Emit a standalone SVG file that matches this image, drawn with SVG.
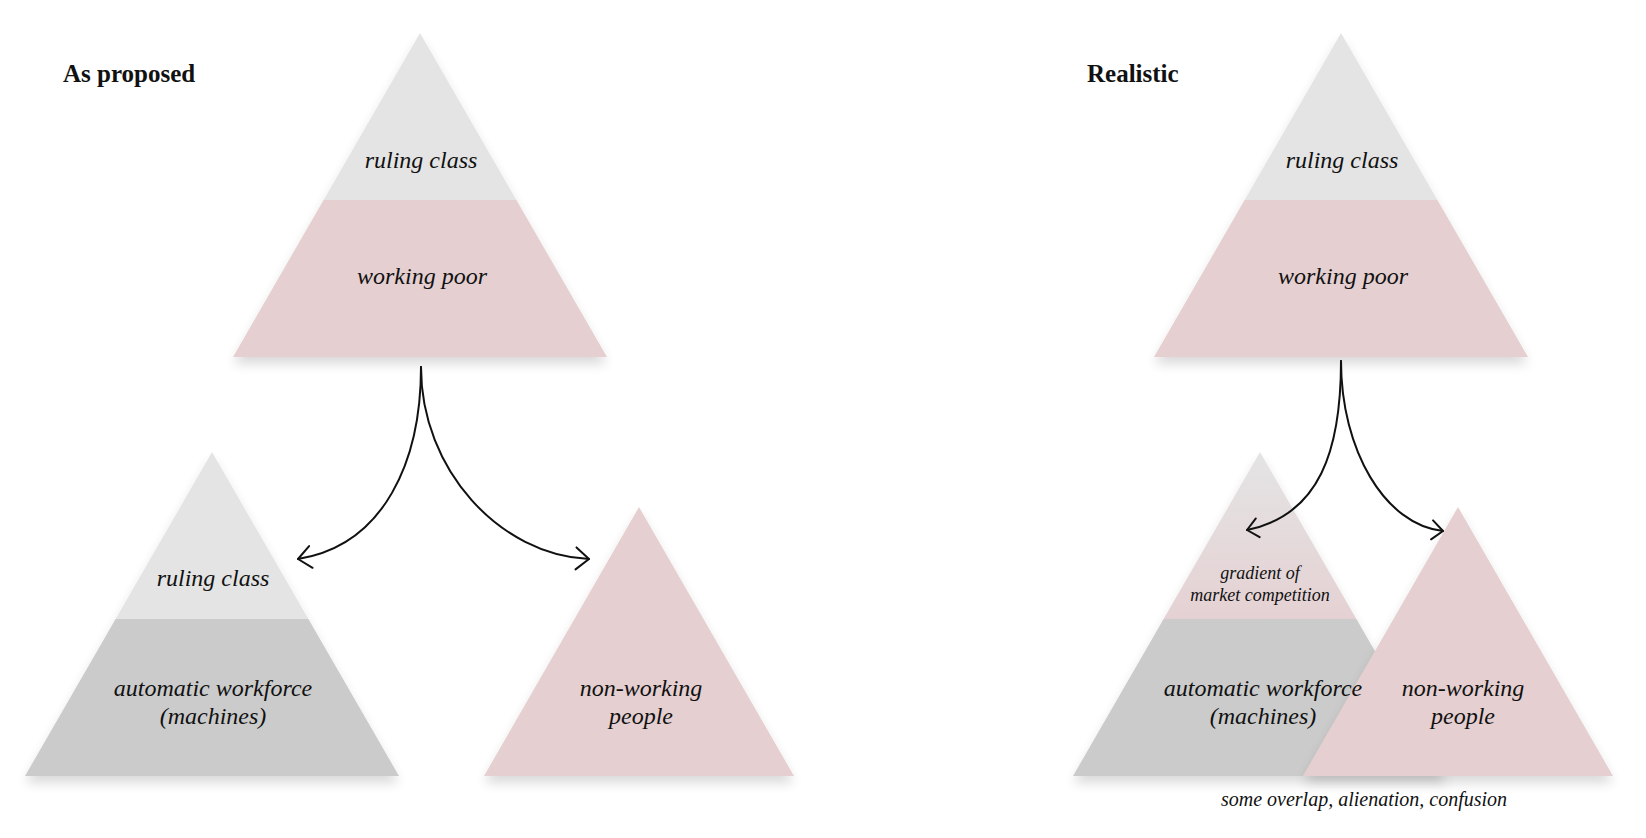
<svg xmlns="http://www.w3.org/2000/svg" width="1646" height="838" viewBox="0 0 1646 838">
<style>
.lbl{font-family:"Liberation Serif","DejaVu Serif",serif;font-style:italic;fill:#111;text-anchor:middle}
.big{font-size:24px}
.sm{font-size:18px}
.ttl{font-family:"Liberation Serif","DejaVu Serif",serif;font-weight:bold;font-size:25px;fill:#111}
.light{fill:#e4e4e4}
.pink{fill:#e5cfd0}
.dark{fill:#cbcbcb}
.arr{fill:none;stroke:#111;stroke-width:2;stroke-linecap:round}
</style>
<defs>
<filter id="sh" x="-10%" y="-10%" width="120%" height="130%">
<feGaussianBlur in="SourceAlpha" stdDeviation="6"/>
<feOffset dy="7" result="b"/>
<feComponentTransfer><feFuncA type="linear" slope="0.15"/></feComponentTransfer>
<feMerge><feMergeNode/><feMergeNode in="SourceGraphic"/></feMerge>
</filter>
<linearGradient id="grad" x1="0" y1="0" x2="0" y2="1">
<stop offset="0" stop-color="#e4e4e4"/>
<stop offset="1" stop-color="#e5d1d3"/>
</linearGradient>
<marker id="mkL" markerUnits="userSpaceOnUse" markerWidth="30" markerHeight="30" refX="0" refY="0" viewBox="-15 -15 30 30" orient="auto" overflow="visible">
<path d="M-13,-11 L0,0 L-13,11" fill="none" stroke="#111" stroke-width="2" stroke-linecap="round" stroke-linejoin="round"/>
</marker>
<marker id="mkR" markerUnits="userSpaceOnUse" markerWidth="30" markerHeight="30" refX="0" refY="0" viewBox="-15 -15 30 30" orient="auto" overflow="visible">
<path d="M-11,-9.5 L0,0 L-11,9.5" fill="none" stroke="#111" stroke-width="2" stroke-linecap="round" stroke-linejoin="round"/>
</marker>
</defs>
<rect width="1646" height="838" fill="#fff"/>

<text id="title-left" class="ttl" x="63" y="82">As proposed</text>
<text id="title-right" class="ttl" x="1087" y="82">Realistic</text>

<!-- Left side -->
<g id="left-top">
<g filter="url(#sh)">
<polygon class="light" points="420,33 516.4,200 323.6,200"/>
<polygon class="pink" points="323.6,200 516.4,200 607,357 233,357"/>
</g>
<text class="lbl big" x="421" y="168">ruling class</text>
<text class="lbl big" x="422" y="284">working poor</text>
</g>

<g id="left-machines">
<g filter="url(#sh)">
<polygon class="light" points="212,452 308.4,619 115.6,619"/>
<polygon class="dark" points="115.6,619 308.4,619 399,776 25,776"/>
</g>
<text class="lbl big" x="213" y="586">ruling class</text>
<text class="lbl big" x="213" y="696">automatic workforce</text>
<text class="lbl big" x="213" y="724">(machines)</text>
</g>

<g id="left-nonworking">
<g filter="url(#sh)">
<polygon class="pink" points="639,507 794,776 484,776"/>
</g>
<text class="lbl big" x="641" y="696">non-working</text>
<text class="lbl big" x="641" y="724">people</text>
</g>

<!-- Right side -->
<g id="right-top">
<g filter="url(#sh)">
<polygon class="light" points="1341,33 1437.4,200 1244.6,200"/>
<polygon class="pink" points="1244.6,200 1437.4,200 1528,357 1154,357"/>
</g>
<text class="lbl big" x="1342" y="168">ruling class</text>
<text class="lbl big" x="1343" y="284">working poor</text>
</g>

<g id="right-machines">
<g filter="url(#sh)">
<polygon fill="url(#grad)" points="1260,452 1356.4,619 1163.6,619"/>
<polygon class="dark" points="1163.6,619 1356.4,619 1447,776 1073,776"/>
</g>
</g>

<g id="right-nonworking">
<g filter="url(#sh)">
<polygon class="pink" points="1458,507 1613,776 1303,776"/>
</g>
<text class="lbl big" x="1463" y="696">non-working</text>
<text class="lbl big" x="1463" y="724">people</text>
</g>

<g id="right-machines-labels">
<text class="lbl sm" x="1260" y="579">gradient of</text>
<text class="lbl sm" x="1260" y="601">market competition</text>
<text class="lbl big" x="1263" y="696">automatic workforce</text>
<text class="lbl big" x="1263" y="724">(machines)</text>
</g>

<text id="note" class="lbl" style="font-size:20px" x="1364" y="806">some overlap, alienation, confusion</text>

<g id="connectors">
<path class="arr" d="M421,367 C421,460 385,545 298,559" marker-end="url(#mkL)"/>
<path class="arr" d="M421,367 C421,470 500,555 589,559" marker-end="url(#mkL)"/>
<path class="arr" d="M1341,361 C1341,450 1320,515 1247,530" marker-end="url(#mkR)"/>
<path class="arr" d="M1341,361 C1341,450 1385,525 1443,531" marker-end="url(#mkR)"/>
</g>
</svg>
